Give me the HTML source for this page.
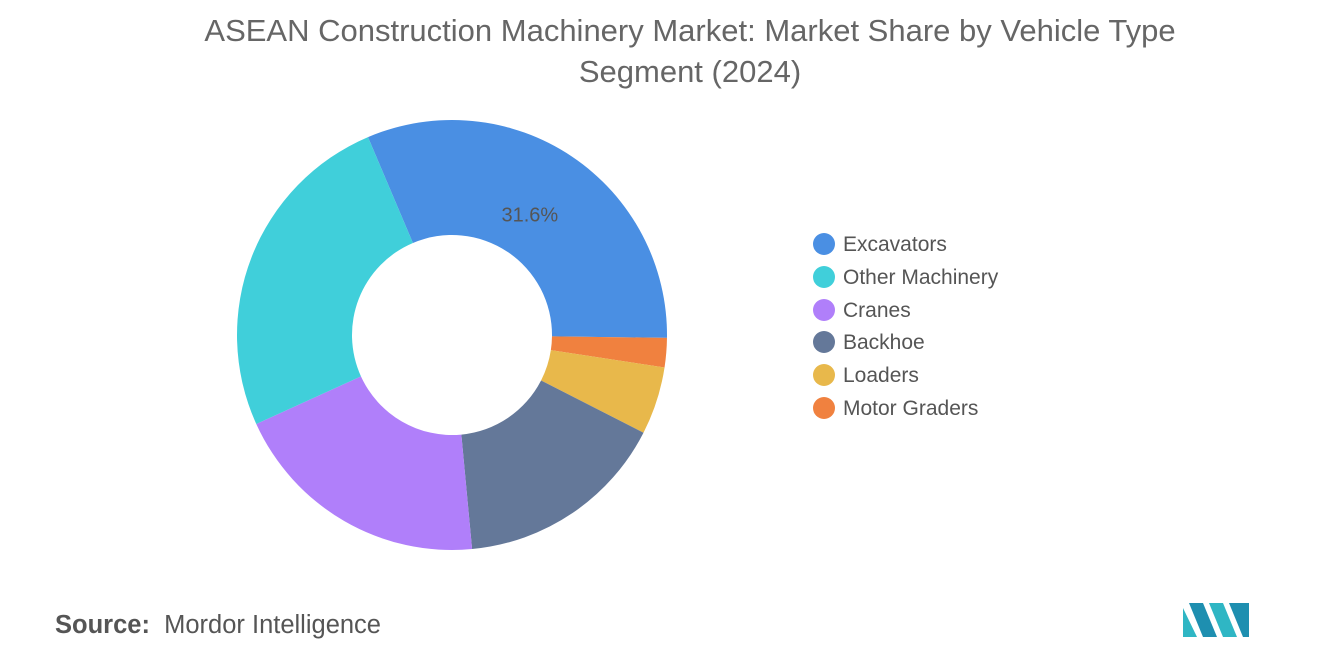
<!DOCTYPE html>
<html><head><meta charset="utf-8"><style>
body{margin:0;background:#fff;font-family:"Liberation Sans",sans-serif}
#wrap{position:relative;width:1320px;height:665px;overflow:hidden}
.title{position:absolute;left:0;width:1380px;top:10px;text-align:center;font-size:31px;line-height:41px;color:#666}
.leg{position:absolute;left:813px;font-size:21px;color:#555;height:24px;line-height:24px}
.leg span{display:inline-block;width:22px;height:22px;border-radius:50%;vertical-align:middle;margin-right:8px;margin-top:-3px}
.src{position:absolute;left:55px;top:611px;font-size:25.5px;color:#555}
</style></head><body>
<div id="wrap">
<div class="title">ASEAN Construction Machinery Market: Market Share by Vehicle Type<br>Segment (2024)</div>
<svg id="pie" width="1320" height="665" style="position:absolute;left:0;top:0"></svg>
<div id="legend"></div>
<div class="src"><b style="font-weight:600">Source:</b>&nbsp; Mordor Intelligence</div>
<svg width="70" height="40" style="position:absolute;left:1183px;top:600px">
<polygon points="0,37 0,8 14,37" fill="#2fb6c4"/><polygon points="6,3 20,3 34,37 20,37" fill="#1e8fb0"/>
<polygon points="26,3 40,3 54,37 40,37" fill="#2fb6c4"/><polygon points="46,3 66,3 66,37 60,37" fill="#1e8fb0"/>
</svg>
</div>
<script>
const categories=["Excavators","Other Machinery","Cranes","Backhoe","Loaders","Motor Graders"];
const values=[31.6,25.4,19.7,16.0,5.1,2.2];
const colors=["#4a8fe3","#40cfda","#b07ffa","#647899","#e8b84b","#f0813f"];
const drawOrder=[0,5,4,3,2,1];
const cx=452,cy=335,R=215,r=100,start=-23;
const svg=document.getElementById('pie');
const NS="http://www.w3.org/2000/svg";
const total=values.reduce((a,b)=>a+b,0);
function pt(a,rad){const t=(a-90)*Math.PI/180;return [cx+rad*Math.cos(t),cy+rad*Math.sin(t)];}
let a=start;
drawOrder.forEach(i=>{
 const sweep=values[i]/total*360,a2=a+sweep,l=sweep>180?1:0;
 const p1=pt(a,R),p2=pt(a2,R),p3=pt(a2,r),p4=pt(a,r);
 const p=document.createElementNS(NS,'path');
 p.setAttribute('d',`M${p1}A${R},${R} 0 ${l} 1 ${p2}L${p3}A${r},${r} 0 ${l} 0 ${p4}Z`);
 p.setAttribute('fill',colors[i]);
 
 
 svg.appendChild(p);
 if(i===0){
  const m=pt(a+sweep/2,145);
  const t=document.createElementNS(NS,'text');
  t.setAttribute('x',m[0]-3);t.setAttribute('y',m[1]+7);t.setAttribute('text-anchor','middle');
  t.setAttribute('font-size','20');t.setAttribute('fill','#555');t.setAttribute('font-family','Liberation Sans, sans-serif');
  t.textContent=values[i].toFixed(1)+'%';
  
  
  svg.appendChild(t);
 }
 a=a2;
});
const leg=document.getElementById('legend');
categories.forEach((c,i)=>{
 const d=document.createElement('div');d.className='leg';d.style.top=(233+i*32.8)+'px';
 d.innerHTML=`<span style="background:${colors[i]}"></span>${c}`;
 
 
 leg.appendChild(d);
});
</script>
</body></html>
